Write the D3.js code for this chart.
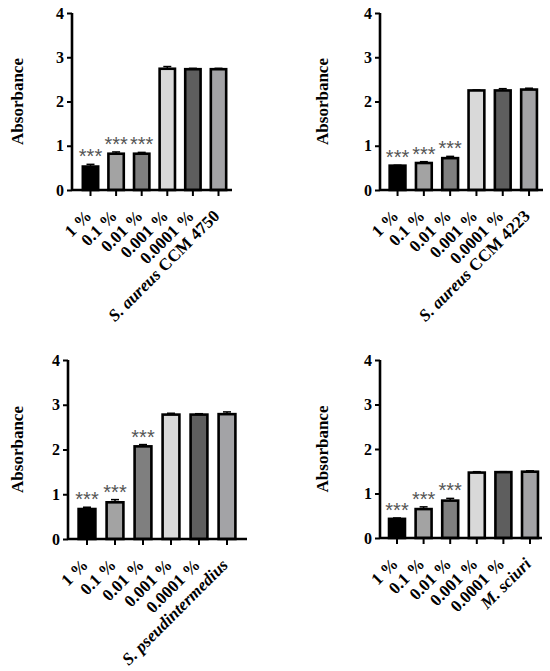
<!DOCTYPE html>
<html>
<head>
<meta charset="utf-8">
<script src="https://cdn.jsdelivr.net/npm/d3@7"></script>
<style>
  body { margin: 0; background: #fff; }
  text { font-family: "Liberation Serif", "Times New Roman", serif; }
  text.star { font-family: "Liberation Sans", Arial, sans-serif; }
</style>
</head>
<body>
<div id="chart"></div>
<script>
// concentrations of the tested compound + untreated control (last bar)
var categories = ["1 %", "0.1 %", "0.01 %", "0.001 %", "0.0001 %", "control"];
var yTicks = [0, 1, 2, 3, 4];

// control labels: italic species name + plain strain
var controlItalic = ["S. aureus", "S. aureus", "S. pseudintermedius", "M. sciuri"];
var controlPlain = [" CCM 4750", " CCM 4223", "", ""];

// mean absorbance and SD (upper error bar) per panel
var aureus4750 = [0.53, 0.82, 0.82, 2.74, 2.73, 2.73];
var aureus4750Err = [0.05, 0.04, 0.03, 0.05, 0.02, 0.02];
var aureus4223 = [0.55, 0.61, 0.72, 2.25, 2.25, 2.27];
var aureus4223Err = [0.01, 0.03, 0.04, 0.01, 0.04, 0.03];
var pseudint = [0.67, 0.82, 2.07, 2.78, 2.78, 2.79];
var pseudintErr = [0.04, 0.06, 0.04, 0.03, 0.02, 0.05];
var sciuri = [0.43, 0.65, 0.84, 1.47, 1.48, 1.49];
var sciuriErr = [0.02, 0.05, 0.05, 0.02, 0.01, 0.02];

// significance marks
var stars = ["***", "***", "***", "", "", ""];

var barColors = ["#000000", "#a3a3a3", "#7f7f7f", "#d9d9d9", "#5e5e5e", "#a3a3a6"];

var panels = [
  { values: aureus4750, errs: aureus4750Err, ctrl: 0 },
  { values: aureus4223, errs: aureus4223Err, ctrl: 1 },
  { values: pseudint, errs: pseudintErr, ctrl: 2 },
  { values: sciuri, errs: sciuriErr, ctrl: 3 }
];

// where each panel sits on the page (pixels)
var layout = [
  { axisX: 72, xEnd: 232, band: [77.7, 231.3], yTop: 13, yBottom: 190, labelX: 23 },
  { axisX: 380, xEnd: 543, band: [384.4, 542.2], yTop: 13, yBottom: 190, labelX: 328 },
  { axisX: 68, xEnd: 247, band: [73, 241], yTop: 360, yBottom: 539, labelX: 23 },
  { axisX: 380, xEnd: 542, band: [383.7, 543.3], yTop: 360, yBottom: 538, labelX: 328 }
];

var svg = d3.select("#chart")
  .append("svg")
  .attr("width", 550)
  .attr("height", 671);

var colorScale = d3.scaleOrdinal().domain(categories).range(barColors);

panels.forEach(function(p, i) {
  var L = layout[i];
  var g = svg.append("g");

  var xScale = d3.scaleBand()
    .domain(categories)
    .range(L.band)
    .paddingInner(0.4)
    .paddingOuter(0.2);

  var yScale = d3.scaleLinear()
    .domain([0, 4])
    .range([L.yBottom, L.yTop]);

  var rows = categories.map(function(c, k) {
    return { cat: c, v: p.values[k], e: p.errs[k], s: stars[k] };
  });

  // bars
  g.selectAll("rect.bar")
    .data(rows)
    .enter()
    .append("rect")
    .attr("class", "bar")
    .attr("x", function(d) { return xScale(d.cat); })
    .attr("width", xScale.bandwidth())
    .attr("y", function(d) { return yScale(d.v); })
    .attr("height", function(d) { return yScale(0) - yScale(d.v); })
    .attr("fill", function(d) { return colorScale(d.cat); })
    .attr("stroke", "#000")
    .attr("stroke-width", 2.6);

  // error bars (upper half)
  var eb = g.selectAll("g.err")
    .data(rows)
    .enter()
    .append("g")
    .attr("class", "err")
    .attr("stroke", "#000")
    .attr("stroke-width", 1.5);
  eb.append("line")
    .attr("x1", function(d) { return xScale(d.cat) + xScale.bandwidth() / 2; })
    .attr("x2", function(d) { return xScale(d.cat) + xScale.bandwidth() / 2; })
    .attr("y1", function(d) { return yScale(d.v); })
    .attr("y2", function(d) { return yScale(d.v + d.e); });
  eb.append("line")
    .attr("x1", function(d) { return xScale(d.cat) + xScale.bandwidth() / 2 - 4; })
    .attr("x2", function(d) { return xScale(d.cat) + xScale.bandwidth() / 2 + 4; })
    .attr("y1", function(d) { return yScale(d.v + d.e); })
    .attr("y2", function(d) { return yScale(d.v + d.e); });

  // asterisks
  g.selectAll("text.star")
    .data(rows.filter(function(d) { return d.s; }))
    .enter()
    .append("text")
    .attr("class", "star")
    .attr("text-anchor", "middle")
    .attr("x", function(d) { return xScale(d.cat) + xScale.bandwidth() / 2; })
    .attr("y", function(d) { return yScale(d.v + d.e) - 1; })
    .attr("fill", "#555")
    .style("font-size", "20px")
    .text(function(d) { return d.s; });

  // y axis
  var yAxis = g.append("g")
    .attr("transform", "translate(" + L.axisX + ",0)")
    .call(d3.axisLeft(yScale).tickValues(yTicks).tickSize(5).tickPadding(3).tickFormat(d3.format("d")));
  yAxis.select(".domain").attr("stroke-width", 2.6).attr("d", "M0," + L.yTop + "V" + L.yBottom);
  yAxis.selectAll(".tick line").attr("stroke-width", 2);
  yAxis.selectAll(".tick text")
    .attr("fill", "#000")
    .style("font-weight", "bold")
    .style("font-size", "16px");

  // x axis
  var xAxis = g.append("g")
    .attr("transform", "translate(0," + L.yBottom + ")")
    .call(d3.axisBottom(xScale).tickSize(6).tickFormat(""));
  xAxis.select(".domain").attr("stroke-width", 2.6).attr("d", "M" + L.axisX + ",0H" + L.xEnd);
  xAxis.selectAll(".tick line").attr("stroke-width", 2);
  xAxis.selectAll(".tick text").remove();

  // rotated category labels
  var lab = g.selectAll("text.xlab")
    .data(categories)
    .enter()
    .append("text")
    .attr("class", "xlab")
    .attr("text-anchor", "end")
    .attr("transform", function(c) {
      var x = xScale(c) + xScale.bandwidth() / 2 + 2;
      return "translate(" + x + "," + (L.yBottom + 27) + ") rotate(-45)";
    })
    .style("font-weight", "bold")
    .style("font-size", "17px");
  lab.each(function(c) {
    var t = d3.select(this);
    if (c === "control") {
      t.append("tspan").style("font-style", "italic").text(controlItalic[p.ctrl]);
      if (controlPlain[p.ctrl]) t.append("tspan").text(controlPlain[p.ctrl]);
    } else {
      t.text(c);
    }
  });

  // y axis title
  g.append("text")
    .attr("text-anchor", "middle")
    .attr("transform", "translate(" + L.labelX + "," + ((L.yTop + L.yBottom) / 2) + ") rotate(-90)")
    .style("font-weight", "bold")
    .style("font-size", "17px")
    .text("Absorbance");
});
</script>
</body>
</html>
